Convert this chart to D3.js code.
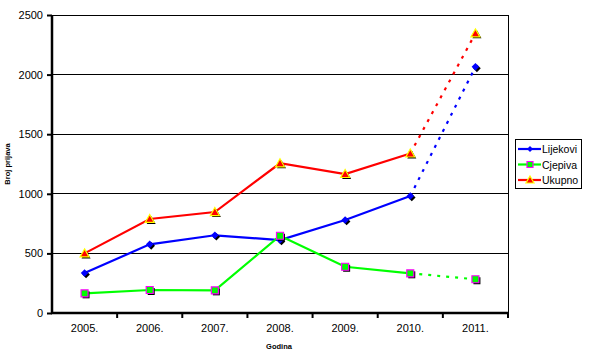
<!DOCTYPE html>
<html><head><meta charset="utf-8">
<script src="https://cdn.jsdelivr.net/npm/d3@7/dist/d3.min.js"></script>
<style>body{margin:0;background:#fff;}svg{display:block;font-family:"Liberation Sans",Arial,sans-serif;}</style>
</head><body>
<svg id="c" width="589" height="356"></svg>
<script>
const categories = ["2005.","2006.","2007.","2008.","2009.","2010.","2011."];
const lijekovi = [335, 576, 652, 612, 780, 982, 2065];
const cjepiva  = [165, 193, 190, 648, 388, 333, 283];
const ukupno   = [500, 789, 847, 1256, 1166, 1338, 2346];
const yTicks = [0, 500, 1000, 1500, 2000, 2500];
const seriesNames = ["Lijekovi","Cjepiva","Ukupno"];

const svg = d3.select("#c");
const L = 52, R = 508, T = 15, B = 313;
const x = d3.scaleBand().domain(categories).range([L, R]);
const y = d3.scaleLinear().domain([0, 2500]).range([B, T]);

// gridlines
svg.append("g").selectAll("line").data(yTicks.filter(d => d > 0)).join("line")
  .attr("x1", L).attr("x2", R).attr("y1", d => y(d)).attr("y2", d => y(d))
  .attr("stroke", "#000").attr("stroke-width", 1).attr("shape-rendering","crispEdges");
// right border
svg.append("line").attr("x1", R).attr("x2", R).attr("y1", T).attr("y2", B)
  .attr("stroke", "#000").attr("shape-rendering","crispEdges");

// y axis
const yAxis = svg.append("g").attr("transform", `translate(${L},0)`)
  .call(d3.axisLeft(y).tickValues(yTicks).tickSize(5).tickPadding(4).tickFormat(d3.format("d")));
yAxis.select(".domain").attr("stroke-width", 2.5).attr("d", `M0,${T}V${B+1}`);
yAxis.selectAll(".tick line").attr("stroke-width", 2);
yAxis.selectAll("text").attr("font-size", 11).attr("fill", "#000").attr("font-family","Liberation Sans, Arial, sans-serif");

// x axis
const xAxis = svg.append("g").attr("transform", `translate(0,${B})`)
  .call(d3.axisBottom(x).tickSize(0).tickPadding(11));
xAxis.select(".domain").attr("stroke-width", 2.5).attr("d", `M${L-1},0H${R}`);
xAxis.selectAll("text").attr("font-size", 11).attr("fill", "#000").attr("font-family","Liberation Sans, Arial, sans-serif");
// category boundary ticks
svg.append("g").selectAll("line").data(categories.slice(1).concat(["_end"])).join("line")
  .attr("x1", d => d === "_end" ? R : x(d)).attr("x2", d => d === "_end" ? R : x(d))
  .attr("y1", B).attr("y2", B + 5).attr("stroke", "#000").attr("stroke-width", 2);

// axis titles
svg.append("text").attr("x", 279).attr("y", 349).attr("text-anchor", "middle")
  .attr("font-size", 7.5).attr("font-weight", "bold").text("Godina");
svg.append("text").attr("transform", "translate(10,164) rotate(-90)").attr("text-anchor", "middle")
  .attr("font-size", 7.5).attr("font-weight", "bold").text("Broj prijava");

const series = [
  {name: seriesNames[0], values: lijekovi, color: "#0000ff", marker: "diamond", fill: "#0000ff", stroke: "#0000ff"},
  {name: seriesNames[1], values: cjepiva, color: "#00ff00", marker: "square", fill: "#00ff00", stroke: "#ff00ff"},
  {name: seriesNames[2], values: ukupno, color: "#ff0000", marker: "triangle", fill: "#ff0000", stroke: "#ffff00"}
];
const cx = i => x(categories[i]) + x.bandwidth() / 2;
const line = d3.line().x(d => cx(d.i)).y(d => y(d.v));

function markerPath(type, size) {
  const s = size;
  if (type === "diamond") return `M0,${-s}L${s},0L0,${s}L${-s},0Z`;
  if (type === "square") return `M${-s},${-s}H${s}V${s}H${-s}Z`;
  return `M0,${-s-1}L${s+1},${s}L${-s-1},${s}Z`;
}

series.forEach(s => {
  const pts = s.values.map((v, i) => ({v, i}));
  svg.append("path").attr("d", line(pts.slice(0, 6))).attr("fill", "none")
    .attr("stroke", s.color).attr("stroke-width", 2.2);
  svg.append("path").attr("d", line(pts.slice(5))).attr("fill", "none")
    .attr("stroke", s.color).attr("stroke-width", 2.2).attr("stroke-dasharray", "3,6");
});
series.forEach(s => {
  const g = svg.append("g");
  s.values.forEach((v, i) => {
    const sz = s.marker === "diamond" ? 3.8 : 3.5;
    g.append("path").attr("d", markerPath(s.marker, sz))
      .attr("transform", `translate(${cx(i)+1.5},${y(v)+1.5})`).attr("fill", "#000");
    g.append("path").attr("d", markerPath(s.marker, sz))
      .attr("transform", `translate(${cx(i)},${y(v)})`)
      .attr("fill", s.fill).attr("stroke", s.stroke).attr("stroke-width", s.marker === "diamond" ? 0 : 1.2);
  });
});

// legend
const lg = svg.append("g");
lg.append("rect").attr("x", 515.5).attr("y", 139.5).attr("width", 66).attr("height", 49)
  .attr("fill", "#fff").attr("stroke", "#000");
series.forEach((s, k) => {
  const ly = 149 + k * 15.5;
  lg.append("line").attr("x1", 518).attr("x2", 541).attr("y1", ly).attr("y2", ly)
    .attr("stroke", s.color).attr("stroke-width", 2.2);
  lg.append("path").attr("d", markerPath(s.marker, 3)).attr("transform", `translate(530,${ly})`)
    .attr("fill", s.fill).attr("stroke", s.stroke).attr("stroke-width", s.marker === "diamond" ? 0 : 1.2);
  lg.append("text").attr("x", 542).attr("y", ly + 4).attr("font-size", 10.5).text(s.name);
});
</script>
</body></html>
